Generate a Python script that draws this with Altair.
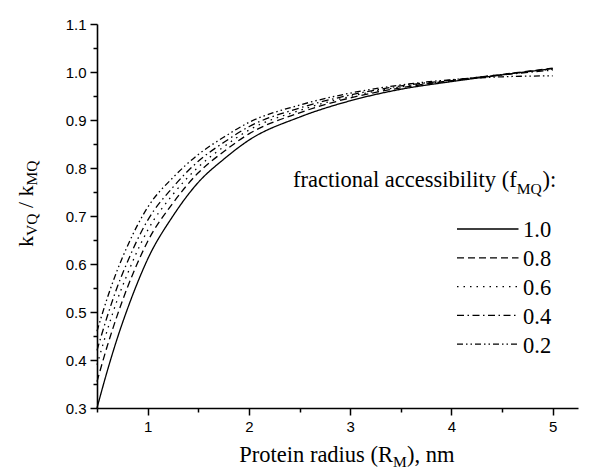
import altair as alt
import pandas as pd

# ---- data ----
radius = [0.5, 0.6, 0.7, 0.8, 0.9, 1.0, 1.25, 1.5, 1.75, 2.0, 2.5, 3.0, 3.5, 4.0, 4.5, 5.0]
f_10 = [0.300, 0.376, 0.445, 0.506, 0.561, 0.610, 0.700, 0.770, 0.818, 0.858, 0.906, 0.940, 0.964, 0.980, 0.994, 1.007]
f_08 = [0.355, 0.428, 0.493, 0.551, 0.602, 0.647, 0.727, 0.790, 0.834, 0.871, 0.915, 0.946, 0.967, 0.982, 0.995, 1.008]
f_06 = [0.390, 0.461, 0.525, 0.579, 0.628, 0.670, 0.745, 0.802, 0.844, 0.879, 0.920, 0.949, 0.969, 0.982, 0.995, 1.006]
f_04 = [0.420, 0.490, 0.552, 0.604, 0.651, 0.691, 0.760, 0.814, 0.853, 0.886, 0.925, 0.952, 0.971, 0.983, 0.994, 1.004]
f_02 = [0.460, 0.528, 0.587, 0.637, 0.681, 0.718, 0.780, 0.828, 0.864, 0.895, 0.931, 0.956, 0.973, 0.984, 0.990, 0.992]
series_labels = ["1.0", "0.8", "0.6", "0.4", "0.2"]
series_values = [f_10, f_08, f_06, f_04, f_02]

x_ticks = [0.5, 1.0, 1.5, 2.0, 2.5, 3.0, 3.5, 4.0, 4.5, 5.0]
y_ticks = [0.3, 0.35, 0.4, 0.45, 0.5, 0.55, 0.6, 0.65, 0.7, 0.75, 0.8, 0.85, 0.9, 0.95, 1.0, 1.05, 1.1]

rows = []
for lab, vals in zip(series_labels, series_values):
    for r, v in zip(radius, vals):
        rows.append({"R": r, "k": v, "f": lab})
df = pd.DataFrame(rows)

dashes = [[1, 0], [7, 4], [1.5, 5], [7, 3.5, 1.5, 3.5], [6, 3, 1.5, 3, 1.5, 3]]

SERIF = "Liberation Serif"
SANS = "Liberation Sans"
W, H = 481, 384

x_major = "abs(datum.value - round(datum.value)) < 0.001"
y_major = "abs(datum.value*10 - round(datum.value*10)) < 0.001"

lines = alt.Chart(df).mark_line(color="black", strokeWidth=1.3, interpolate="monotone").encode(
    x=alt.X("R:Q", scale=alt.Scale(domain=[0.5, 5.25], nice=False, zero=False),
            axis=alt.Axis(values=x_ticks, title=None, grid=False,
                          labelExpr=f"{x_major} ? format(datum.value, 'd') : ''",
                          tickSize={"condition": {"test": x_major, "value": 7}, "value": 4},
                          labelOverlap=False, labelFlush=False)),
    y=alt.Y("k:Q", scale=alt.Scale(domain=[0.3, 1.1], nice=False, zero=False),
            axis=alt.Axis(values=y_ticks, title=None, grid=False,
                          labelExpr=f"{y_major} ? format(datum.value, '.1f') : ''",
                          tickSize={"condition": {"test": y_major, "value": 7}, "value": 4},
                          labelOverlap=False, labelFlush=False)),
    strokeDash=alt.StrokeDash("f:N", scale=alt.Scale(domain=series_labels, range=dashes), legend=None),
    detail="f:N",
)

layers = [lines]

def txt(s, x, y, size, align="left", angle=0):
    return alt.Chart(pd.DataFrame({"t": [s]})).mark_text(
        font=SERIF, fontSize=size, color="black", align=align, baseline="alphabetic", angle=angle
    ).encode(text="t:N", x=alt.value(x), y=alt.value(y))

# x-axis title: Protein radius (R_M), nm
layers += [
    txt("Protein radius (R", 296, 437.7, 22.5, align="right"),
    txt("M", 296, 442.5, 15.5),
    txt("), nm", 310, 437.7, 22.5),
]

# y-axis title: k_VQ / k_MQ (rotated)
layers += [
    txt("k", -64.5, 223, 22, angle=270),
    txt("VQ", -60, 212, 15.5, angle=270),
    txt("/ k", -64.5, 184.1, 22, angle=270),
    txt("MQ", -60, 161.5, 15.5, angle=270),
]

# legend title
layers += [
    txt("fractional accessibility (f", 419.7, 163.3, 22.5, align="right"),
    txt("MQ", 419.7, 169.5, 15.5),
    txt("):", 445.5, 163.3, 22.5),
]

# legend entries
for i, (lab, d) in enumerate(zip(series_labels, dashes)):
    yc = 205 + i * 28.8
    layers.append(
        alt.Chart(pd.DataFrame({"a": [0]})).mark_rule(color="black", strokeWidth=1.3, strokeDash=d).encode(
            x=alt.value(360), x2=alt.value(421.5), y=alt.value(yc)
        )
    )
    layers.append(txt(lab, 426, yc + 8.3, 22.5))

chart = alt.layer(*layers).properties(
    width=W, height=H,
    autosize=alt.AutoSizeParams(type="none"),
    padding={"left": 89, "top": 16, "right": 12, "bottom": 60},
).configure_view(stroke=None).configure_axis(
    domainColor="black", domainWidth=1.6, tickColor="black", tickWidth=1.5,
    labelColor="black", labelFont=SANS, labelFontSize=15, labelPadding=4,
)

chart.save("out.html", embed_options={"renderer": "svg", "actions": False})
